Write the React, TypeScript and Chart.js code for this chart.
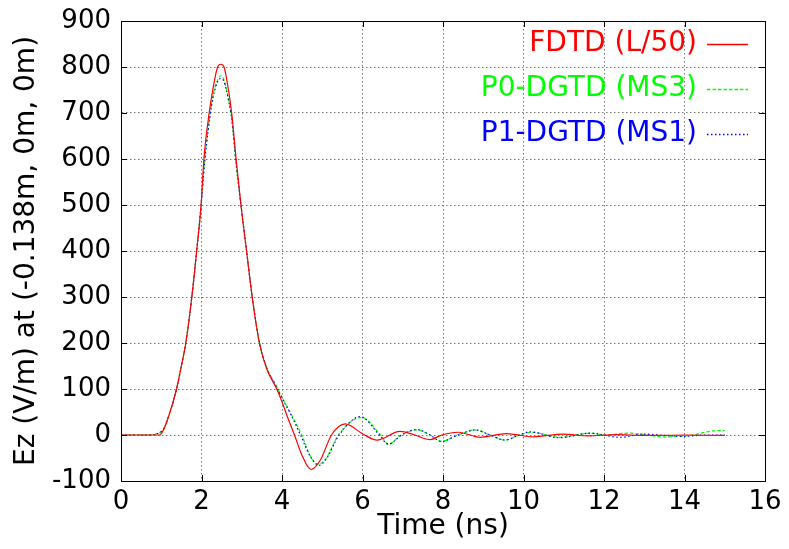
import React, { useEffect, useRef } from "react";
import { Chart, registerables } from "chart.js";

Chart.register(...registerables);

// ---------- data ----------
const X_TICKS = [0, 2, 4, 6, 8, 10, 12, 14, 16];
const Y_TICKS = [-100, 0, 100, 200, 300, 400, 500, 600, 700, 800, 900];

const SERIES_LABELS = ["FDTD (L/50)", "P0-DGTD (MS3)", "P1-DGTD (MS1)"];
const SERIES_COLORS = ["#ff0000", "#00ff00", "#0000ff"];

const FDTD_T = [0, 0.95, 1.05, 1.2, 1.38, 1.5, 1.61, 1.76, 1.88, 1.99, 2.06, 2.19, 2.28, 2.4, 2.48, 2.56, 2.67, 2.75, 2.86, 2.98, 3.12, 3.26, 3.44, 3.62, 3.87, 4.0, 4.15, 4.31, 4.5, 4.72, 4.95, 5.23, 5.57, 6.03, 6.36, 6.93, 7.3, 7.68, 7.97, 8.38, 8.92, 9.58, 10.25, 10.99, 11.6, 12.3, 13.0, 14.0, 15.0];
const FDTD_V = [0, 0, 10, 45, 100, 150, 200, 300, 400, 500, 600, 700, 750, 800, 806, 800, 750, 700, 600, 500, 400, 300, 200, 144, 100, 72, 36, 0, -45, -75, -55, 0, 24, 1, -11, 8, 0, -10, 0, 6, -5, 3, -4, 2, -2, 1, -1, 0, -1];

const P0_T = [0, 0.72, 0.95, 1.05, 1.2, 1.38, 1.5, 1.61, 1.76, 1.88, 1.99, 2.07, 2.2, 2.29, 2.4, 2.48, 2.56, 2.67, 2.75, 2.86, 2.98, 3.12, 3.26, 3.44, 3.62, 3.87, 4.0, 4.2, 4.49, 4.7, 4.9, 5.1, 5.4, 5.97, 6.45, 6.64, 6.97, 7.35, 7.68, 7.96, 8.37, 8.8, 9.17, 9.54, 9.9, 10.2, 10.9, 11.65, 12.05, 12.6, 13.0, 13.47, 14.2, 14.55, 14.8, 15.0];
const P0_V = [0, 0, 5, 12, 45, 100, 150, 200, 300, 400, 500, 590, 690, 740, 772, 781, 772, 730, 690, 590, 500, 400, 300, 200, 147, 105, 82, 50, 0, -45, -64, -50, 0, 38, 0, -20, 0, 11, 0, -14, 0, 11, 0, -11, 0, 6, -5, 4, 0, 4, 1, -4, 0, 6.5, 9.5, 9.5];

const P1_T = [0, 0.72, 0.95, 1.05, 1.2, 1.38, 1.5, 1.61, 1.76, 1.88, 1.99, 2.07, 2.2, 2.29, 2.4, 2.48, 2.56, 2.67, 2.75, 2.86, 2.98, 3.12, 3.26, 3.44, 3.62, 3.87, 4.0, 4.2, 4.46, 4.7, 4.92, 5.1, 5.42, 5.95, 6.42, 6.64, 6.97, 7.35, 7.68, 7.96, 8.37, 8.8, 9.17, 9.54, 9.9, 10.15, 10.9, 11.65, 12.4, 12.98, 13.5, 14.0, 14.5, 15.0];
const P1_V = [0, 0, 5, 12, 45, 100, 150, 200, 300, 400, 500, 585, 685, 735, 768, 775, 768, 728, 688, 590, 500, 400, 300, 200, 146, 103, 80, 48, 0, -46, -66, -52, 0, 40, 0, -20, 0, 12, 0, -14, 0, 11, 0, -11, 0, 7, -6, 4, -5, 2, -1, -3, 0, 0];

const toPoints = (t: number[], v: number[]) => t.map((x, i) => ({ x, y: v[i] }));

const DASHES: number[][] = [[], [3.5, 2], [1.5, 2.5]];
const ORDERS = [0, 2, 1];

// ---------- plugins ----------
const frameAndLegend = {
  id: "frameAndLegend",
  afterDraw(chart: any) {
    const { ctx, chartArea } = chart;
    const { left, right, top, bottom } = chartArea;
    const xs = chart.scales.x;
    const ys = chart.scales.y;
    ctx.save();
    ctx.strokeStyle = "#000";
    ctx.lineWidth = 1;
    ctx.setLineDash([]);
    ctx.strokeRect(Math.round(left) + 0.5, Math.round(top) + 0.5, Math.round(right - left), Math.round(bottom - top));
    const tl = 6;
    ctx.beginPath();
    X_TICKS.forEach((v) => {
      const px = Math.round(xs.getPixelForValue(v)) + 0.5;
      ctx.moveTo(px, bottom);
      ctx.lineTo(px, bottom - tl);
      ctx.moveTo(px, top);
      ctx.lineTo(px, top + tl);
    });
    Y_TICKS.forEach((v) => {
      const py = Math.round(ys.getPixelForValue(v)) + 0.5;
      ctx.moveTo(left, py);
      ctx.lineTo(left + tl, py);
      ctx.moveTo(right, py);
      ctx.lineTo(right - tl, py);
    });
    ctx.stroke();

    // legend (text at left, sample line at right)
    ctx.font = '28px "DejaVu Sans"';
    ctx.textAlign = "right";
    ctx.textBaseline = "alphabetic";
    const textRight = right - 68;
    const sx0 = right - 58;
    const sx1 = right - 17;
    SERIES_LABELS.forEach((label, i) => {
      const base = top + 30 + i * 44.8;
      const col = SERIES_COLORS[i];
      ctx.fillStyle = col;
      ctx.fillText(label, textRight, base);
      ctx.strokeStyle = col;
      ctx.lineWidth = 1.3;
      ctx.setLineDash(DASHES[i]);
      ctx.beginPath();
      const ly = Math.round(base - 7) + 0.5;
      ctx.moveTo(sx0, ly);
      ctx.lineTo(sx1, ly);
      ctx.stroke();
    });
    ctx.restore();
  },
};

export default function App() {
  const ref = useRef<HTMLCanvasElement | null>(null);

  useEffect(() => {
    if (!ref.current) return;
    Chart.defaults.font.family = '"DejaVu Sans"';
    Chart.defaults.color = "#000";
    const chart = new Chart(ref.current, {
      type: "line",
      data: {
        datasets: [
          { label: SERIES_LABELS[0], data: toPoints(FDTD_T, FDTD_V) },
          { label: SERIES_LABELS[1], data: toPoints(P0_T, P0_V) },
          { label: SERIES_LABELS[2], data: toPoints(P1_T, P1_V) },
        ].map((d, i) => ({
          ...d,
          order: ORDERS[i],
          borderColor: SERIES_COLORS[i],
          backgroundColor: SERIES_COLORS[i],
          borderWidth: 1.2,
          borderDash: DASHES[i],
          pointRadius: 0,
          fill: false,
          cubicInterpolationMode: "monotone" as const,
        })),
      },
      options: {
        animation: false,
        responsive: false,
        maintainAspectRatio: false,
        layout: { padding: { top: 21, right: 24, left: 0, bottom: 0 } },
        plugins: { legend: { display: false }, tooltip: { enabled: false } },
        scales: {
          x: {
            type: "linear",
            min: 0,
            max: 16,
            afterBuildTicks: (s: any) => {
              s.ticks = X_TICKS.map((v) => ({ value: v }));
            },
            afterFit: (s: any) => {
              s.height = 68;
              s.paddingLeft = 0;
              s.paddingRight = 0;
            },
            ticks: { font: { size: 26 }, padding: 6, color: "#000", maxRotation: 0 },
            grid: { color: "#777", lineWidth: 1, drawTicks: false },
            border: { display: true, color: "#000", width: 1, dash: [1.5, 2.5] },
            title: { display: true, text: "Time (ns)", font: { size: 28 }, color: "#000", padding: { top: 0, bottom: 5 } },
          },
          y: {
            type: "linear",
            min: -100,
            max: 900,
            afterBuildTicks: (s: any) => {
              s.ticks = Y_TICKS.map((v) => ({ value: v }));
            },
            afterFit: (s: any) => {
              s.width = 121;
              s.paddingTop = 0;
              s.paddingBottom = 0;
            },
            ticks: { font: { size: 26 }, padding: 10, color: "#000" },
            grid: { color: "#777", lineWidth: 1, drawTicks: false },
            border: { display: true, color: "#000", width: 1, dash: [1.5, 2.5] },
            title: { display: true, text: "Ez (V/m) at (-0.138m, 0m, 0m)", font: { size: 28 }, color: "#000", padding: { top: 10, bottom: 0 } },
          },
        },
      },
      plugins: [frameAndLegend],
    });
    return () => chart.destroy();
  }, []);

  return (
    <div style={{ position: "absolute", left: 0, top: 0, width: 789, height: 549, background: "#fff" }}>
      <canvas ref={ref} width={789} height={549} style={{ display: "block", width: 789, height: 549 }} />
    </div>
  );
}
